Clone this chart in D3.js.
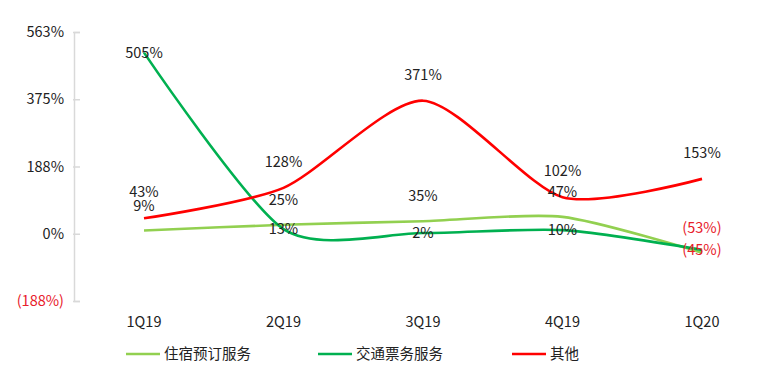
<!DOCTYPE html>
<meta charset="utf-8">
<style>
body { margin: 0; background: #fff; }
text { font-family: "Noto Sans CJK SC", "Open Sans", sans-serif; }
</style>
<script src="https://cdn.jsdelivr.net/npm/d3@7"></script>
<div id="viz"></div>
<script>
var quarters = ["1Q19", "2Q19", "3Q19", "4Q19", "1Q20"];
var lodging  = [9, 25, 35, 47, -53];
var transport = [505, 13, 2, 10, -45];
var others   = [43, 128, 371, 102, 153];
var yTicks   = [-187.5, 0, 187.5, 375, 562.5];

var seriesNames  = ["住宿预订服务", "交通票务服务", "其他"];
var seriesColors = ["#92d050", "#00b050", "#ff0000"];
// label offset: some labels sit above the point, some on it
var labelShift   = [-25, 0, -26];
var allSeries = [lodging, transport, others];

var width = 767, height = 372;
var fs = 14.5;
var svg = d3.select("#viz").append("svg")
    .attr("width", width).attr("height", height);

var x = d3.scalePoint().domain(quarters).range([144, 702]);
var y = d3.scaleLinear().domain([-187.5, 562.5]).range([301, 32]);

function fmt(v) {
    var r = Math.round(Math.abs(v));
    return v < 0 ? "(" + r + "%)" : r + "%";
}

// y axis
var yAxis = svg.append("g")
    .attr("transform", "translate(74,0)")
    .call(d3.axisRight(y).tickValues(yTicks).tickSize(6).tickFormat(""));
yAxis.select(".domain").attr("stroke", "#d9d9d9").attr("stroke-width", 1.5);
yAxis.selectAll(".tick line").attr("stroke", "#d9d9d9").attr("stroke-width", 1.5)
    .attr("x1", -1);

svg.append("g").selectAll("text")
    .data(yTicks).enter().append("text")
    .attr("x", 64)
    .attr("y", function(d) { return y(d) + 5; })
    .attr("text-anchor", "end")
    .attr("font-size", fs)
    .attr("fill", function(d) { return d < 0 ? "#e8202a" : "#222"; })
    .text(fmt);

// x labels
svg.append("g").selectAll("text")
    .data(quarters).enter().append("text")
    .attr("x", function(d) { return x(d); })
    .attr("y", 327)
    .attr("text-anchor", "middle")
    .attr("font-size", fs)
    .attr("fill", "#222")
    .text(function(d) { return d; });

var line = d3.line()
    .x(function(d, i) { return x(quarters[i]); })
    .y(function(d) { return y(d); })
    .curve(d3.curveCardinal.tension(0.25));

allSeries.forEach(function(vals, s) {
    svg.append("path")
        .datum(vals)
        .attr("d", line)
        .attr("fill", "none")
        .attr("stroke", seriesColors[s])
        .attr("stroke-width", 2.6);
});

allSeries.forEach(function(vals, s) {
    svg.append("g").selectAll("text")
        .data(vals).enter().append("text")
        .attr("x", function(d, i) { return x(quarters[i]); })
        .attr("y", function(d) { return y(d) + labelShift[s] + 5; })
        .attr("text-anchor", "middle")
        .attr("font-size", fs)
        .attr("fill", function(d) { return d < 0 ? "#e8202a" : "#222"; })
        .text(fmt);
});

// legend
var legendX = [126, 318, 512];
var legend = svg.append("g").selectAll("g")
    .data(seriesNames).enter().append("g")
    .attr("transform", function(d, i) { return "translate(" + legendX[i] + ",354)"; });
legend.append("line")
    .attr("x1", 0).attr("x2", 34)
    .attr("stroke", function(d, i) { return seriesColors[i]; })
    .attr("stroke-width", 2.6);
legend.append("text")
    .attr("x", 38).attr("y", 5)
    .attr("font-size", fs)
    .attr("fill", "#222")
    .text(function(d) { return d; });
</script>
